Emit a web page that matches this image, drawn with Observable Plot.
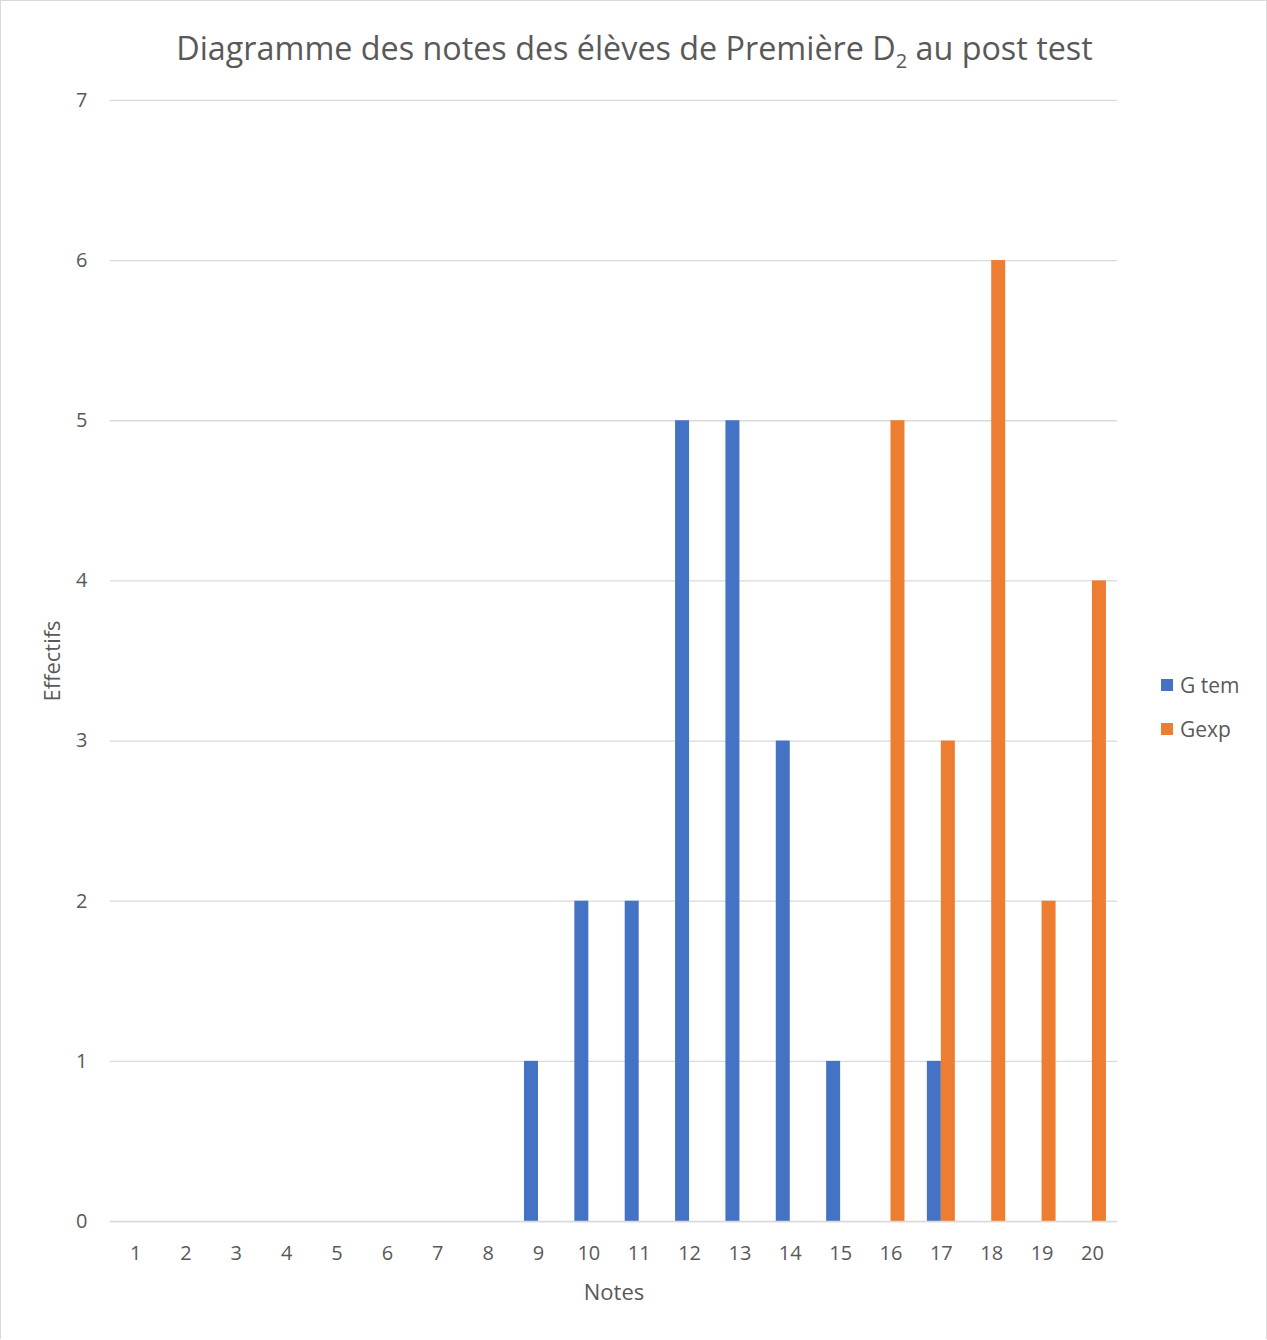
<!DOCTYPE html>
<html>
<head>
<meta charset="utf-8">
<script src="https://cdn.jsdelivr.net/npm/d3@7"></script>
<script src="https://cdn.jsdelivr.net/npm/@observablehq/plot@0.6"></script>
<style>
  html, body { margin: 0; padding: 0; background: #fff; }
  #wrap { position: relative; width: 1265px; height: 1338px; border: 1px solid #d9d9d9; border-bottom: none; font-family: "Open Sans", sans-serif; color: #595959; overflow: hidden; }
  #title { position: absolute; left: 0; width: 1267px; top: 25px; line-height: 42px; text-align: center; font-size: 32.3px; color: #595959; }
  #title sub { font-size: 20px; vertical-align: -8px; line-height: 0; }
  #legend { position: absolute; left: 1160px; top: 673px; font-size: 21px; color: #595959; }
  .li { display: flex; align-items: center; height: 22px; margin-bottom: 22px; }
  .sw { width: 12px; height: 12px; margin-right: 7px; }
  #chart { position: absolute; left: -1px; top: -1px; }
</style>
</head>
<body>
<div id="wrap">
  <div id="chart"></div>
  <div id="title">Diagramme des notes des élèves de Première D<sub>2</sub> au post test</div>
  <div id="legend"></div>
</div>
<script>
const notes = [1,2,3,4,5,6,7,8,9,10,11,12,13,14,15,16,17,18,19,20];
const gTem  = [0,0,0,0,0,0,0,0,1,2,2,5,5,3,1,0,1,0,0,0];
const gExp  = [0,0,0,0,0,0,0,0,0,0,0,0,0,0,0,5,3,6,2,4];
const seriesNames = ["G tem", "Gexp"];
const seriesColors = ["#4472C4", "#ED7D31"];
const yTicks = [0,1,2,3,4,5,6,7];
const xLabel = "Notes";
const yLabel = "Effectifs";

const rows = [];
notes.forEach((n, i) => {
  rows.push({note: String(n), serie: seriesNames[0], value: gTem[i]});
  rows.push({note: String(n), serie: seriesNames[1], value: gExp[i]});
});

const W = 1267, H = 1340;
const inset = 18.2, half = 7;

const chart = Plot.plot({
  width: W,
  height: H,
  marginTop: 100,
  marginBottom: 118,
  marginLeft: 110,
  marginRight: 149,
  style: {fontFamily: "'Open Sans', sans-serif", color: "#595959", background: "transparent"},
  x: {domain: notes.map(String), padding: 0, round: false, label: null},
  y: {domain: [0, 7], label: null},
  color: {domain: seriesNames, range: seriesColors},
  marks: [
    Plot.gridY(yTicks, {stroke: "#d9d9d9", strokeOpacity: 1, strokeWidth: 1.3}),
    Plot.barY(rows.filter(d => d.serie === seriesNames[0]), {x: "note", y: "value", fill: "serie", insetLeft: inset, insetRight: inset, dx: -half}),
    Plot.barY(rows.filter(d => d.serie === seriesNames[1]), {x: "note", y: "value", fill: "serie", insetLeft: inset, insetRight: inset, dx: half}),
    Plot.ruleY([0], {stroke: "#d9d9d9", strokeWidth: 1.5}),
    Plot.axisY(yTicks, {tickSize: 0, tickPadding: 23, fill: "#595959", fontSize: 20, tickFormat: d => String(d), label: null}),
    Plot.axisX({tickSize: 0, tickPadding: 24, fill: "#595959", fontSize: 20, label: null}),
    Plot.text([yLabel], {frameAnchor: "left", rotate: -90, dx: -58, fontSize: 22, fill: "#595959", textAnchor: "middle", lineAnchor: "middle"}),
    Plot.text([xLabel], {frameAnchor: "bottom", dy: 71, fontSize: 22, fill: "#595959", textAnchor: "middle", lineAnchor: "middle"})
  ]
});
document.getElementById("chart").appendChild(chart);

const leg = document.getElementById("legend");
seriesNames.forEach((s, i) => {
  const d = document.createElement("div");
  d.className = "li";
  d.innerHTML = `<span class="sw" style="background:${seriesColors[i]}"></span><span>${s}</span>`;
  leg.appendChild(d);
});
</script>
</body>
</html>
